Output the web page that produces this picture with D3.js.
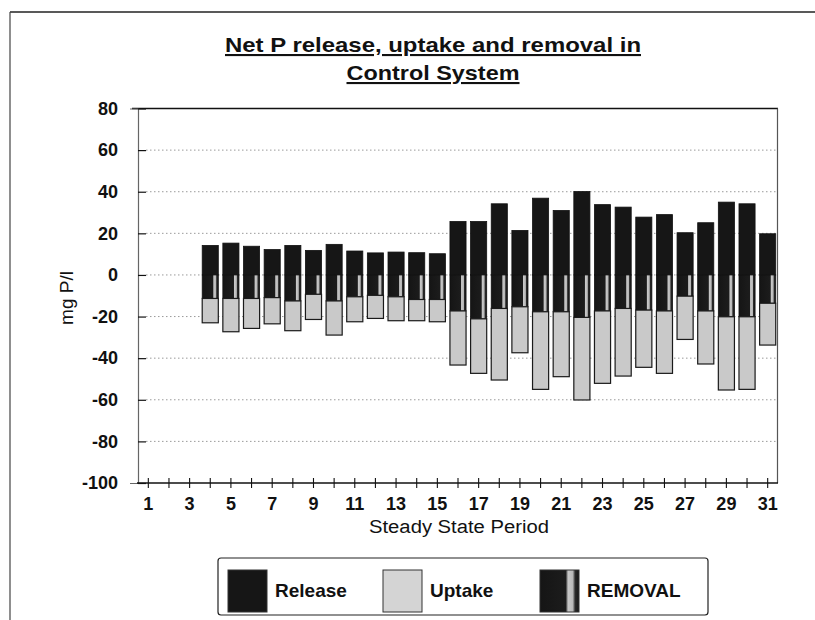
<!DOCTYPE html>
<html><head><meta charset="utf-8">
<script src="https://cdn.jsdelivr.net/npm/d3@7"></script>
<style>body{margin:0;background:#fff}svg{display:block}text{font-family:"Liberation Sans",Arial,sans-serif;fill:#111}</style>
</head><body><svg id="c" width="815" height="620"></svg>
<script>
const periods = d3.range(1, 32).map(String);
const release = [null,null,null,14.2,15.3,13.8,12.2,14.2,11.8,14.7,11.5,10.6,11.0,10.7,10.2,25.7,25.7,34.2,21.4,36.9,31.0,40.1,33.8,32.6,27.8,29.0,20.3,25.1,35.0,34.2,19.8];
const removal = [null,null,null,-11.3,-11.3,-11.3,-10.9,-12.5,-9.3,-12.5,-10.5,-9.8,-10.5,-11.8,-11.8,-17.3,-21.1,-16.1,-15.3,-17.7,-17.7,-20.4,-17.3,-16.1,-16.9,-17.3,-10.2,-17.3,-20.1,-20.1,-13.6];
const uptake = [null,null,null,-11.7,-16.0,-14.4,-12.6,-14.3,-12.1,-16.4,-12.0,-11.1,-11.5,-10.2,-10.7,-26.0,-26.2,-34.4,-22.1,-37.3,-31.2,-39.7,-34.8,-32.5,-27.5,-30.0,-20.8,-25.5,-35.2,-34.9,-20.1];
const yTicks = [-100,-80,-60,-40,-20,0,20,40,60,80];
const gridVals = [-80,-60,-40,-20,0,20,40,60];
const xLabels = periods.filter((d,i) => i % 2 === 0);
const seriesNames = ["Release","Uptake","REMOVAL"];

const svg = d3.select("#c");
const defs = svg.append("defs");
const grad = defs.append("linearGradient").attr("id","remg").attr("x1","0").attr("x2","1").attr("y1","0").attr("y2","0");
[[0,"#151515"],[0.66,"#1c1c1c"],[0.72,"#c8c8c8"],[0.84,"#b8b8b8"],[0.9,"#2a2a2a"],[1,"#151515"]].forEach(s=>grad.append("stop").attr("offset",s[0]).attr("stop-color",s[1]));

// outer frame
svg.append("line").attr("x1",10).attr("x2",815).attr("y1",12).attr("y2",12).attr("stroke","#222").attr("stroke-width",1.5);
svg.append("line").attr("x1",10).attr("x2",10).attr("y1",12).attr("y2",620).attr("stroke","#444").attr("stroke-width",1.2);

const x = d3.scaleBand().domain(periods).range([138,778]).paddingInner(0.22).paddingOuter(0.11);
const y = d3.scaleLinear().domain([-100,80]).range([483,108.5]);

// title
const t = svg.append("g").attr("font-size",21).attr("text-anchor","middle").attr("font-weight","bold");
t.append("text").attr("x",433).attr("y",52).attr("text-decoration","underline")
  .attr("textLength",416).attr("lengthAdjust","spacingAndGlyphs").text("Net P release, uptake and removal in");
t.append("text").attr("x",433).attr("y",80).attr("text-decoration","underline")
  .attr("textLength",173).attr("lengthAdjust","spacingAndGlyphs").text("Control System");

// gridlines
svg.append("g").selectAll("line").data(gridVals).join("line")
  .attr("x1",146).attr("x2",776).attr("y1",d=>y(d)).attr("y2",d=>y(d))
  .attr("stroke","#9a9a9a").attr("stroke-width",1).attr("stroke-dasharray","1.5,2.5");

// plot border top & right
svg.append("line").attr("x1",132).attr("x2",778).attr("y1",y(80)).attr("y2",y(80)).attr("stroke","#111").attr("stroke-width",1.3);
svg.append("line").attr("x1",777.5).attr("x2",777.5).attr("y1",y(80)).attr("y2",y(-100)).attr("stroke","#555").attr("stroke-width",1.2);

// bars
const idx = d3.range(periods.length).filter(i => release[i] !== null);
const bars = svg.append("g");
bars.selectAll(".rel").data(idx).join("rect")
  .attr("x",i=>x(periods[i])).attr("width",x.bandwidth())
  .attr("y",i=>y(release[i])).attr("height",i=>y(0)-y(release[i]))
  .attr("fill","#161616").attr("stroke","#111").attr("stroke-width",0.8);
bars.selectAll(".rem").data(idx).join("rect")
  .attr("x",i=>x(periods[i])).attr("width",x.bandwidth())
  .attr("y",y(0)).attr("height",i=>y(removal[i])-y(0))
  .attr("fill","url(#remg)").attr("stroke","#111").attr("stroke-width",0.8);
bars.selectAll(".upt").data(idx).join("rect")
  .attr("x",i=>x(periods[i])).attr("width",x.bandwidth())
  .attr("y",i=>y(removal[i])).attr("height",i=>y(removal[i]+uptake[i])-y(removal[i]))
  .attr("fill","#c9c9c9").attr("stroke","#1a1a1a").attr("stroke-width",1.2);

// y axis
const ya = svg.append("g").attr("transform","translate(138,0)")
  .call(d3.axisLeft(y).tickValues(yTicks).tickSize(8).tickPadding(12).tickFormat(d => String(d)));
ya.select(".domain").attr("stroke","#666").attr("stroke-width",1.2);
ya.selectAll(".tick line").attr("x2",8).attr("stroke","#111").attr("stroke-width",1.2);
ya.selectAll(".tick text").attr("font-size",18).attr("font-weight","bold").attr("font-family","Liberation Sans, Arial, sans-serif").attr("fill","#111");
svg.append("text").attr("transform","translate(73,298) rotate(-90)").attr("text-anchor","middle")
  .attr("font-size",19).text("mg P/l");

// x axis
const xa = svg.append("g").attr("transform",`translate(0,${y(-100)})`)
  .call(d3.axisBottom(x).tickValues(periods).tickSize(5).tickPadding(9).tickFormat(d => xLabels.includes(d) ? d : ""));
xa.select(".domain").attr("stroke","#111").attr("stroke-width",1.3).attr("d","M137,0H778");
xa.selectAll(".tick line").attr("y1",-5).attr("stroke","#111").attr("stroke-width",1.1);
xa.selectAll(".tick text").attr("font-size",18).attr("font-weight","bold").attr("font-family","Liberation Sans, Arial, sans-serif").attr("fill","#111");
svg.append("text").attr("x",459).attr("y",533).attr("text-anchor","middle").attr("font-size",18)
  .attr("textLength",180).attr("lengthAdjust","spacingAndGlyphs").text("Steady State Period");

// legend
const lg = svg.append("g");
lg.append("rect").attr("x",218).attr("y",558).attr("width",490).attr("height",57).attr("rx",3)
  .attr("fill","#fff").attr("stroke","#222").attr("stroke-width",1.2);
const legendFill = ["#161616","#d4d4d4","url(#remg)"];
const legendX = [228,383,540];
seriesNames.forEach((n,i) => {
  lg.append("rect").attr("x",legendX[i]).attr("y",570).attr("width",39).attr("height",42)
    .attr("fill",legendFill[i]).attr("stroke","#333").attr("stroke-width",1);
  lg.append("text").attr("x",legendX[i]+47).attr("y",597).attr("font-size",19).attr("font-weight","bold").text(n);
});
</script></body></html>
